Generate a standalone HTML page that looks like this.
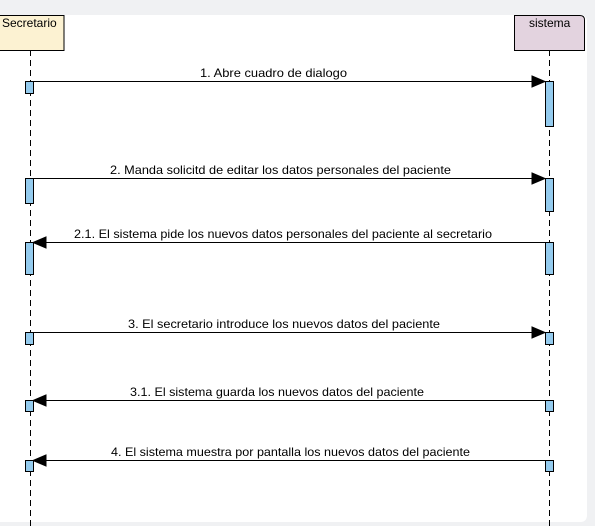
<!DOCTYPE html>
<html><head><style>body{margin:0;background:#f0f1f3}svg{display:block}</style></head><body>
<svg width="595" height="526" xmlns="http://www.w3.org/2000/svg" font-family="Liberation Sans, sans-serif" font-size="12">
<rect x="0" y="0" width="595" height="526" fill="#f0f1f3"/>
<path d="M0 15 H580 Q587 15 587 22 V515 Q587 522 580 522 H0 Z" fill="#fff"/>
<g stroke="#000" stroke-dasharray="6,4" stroke-width="1">
<line x1="30.5" y1="50" x2="30.5" y2="526"/>
<line x1="549.5" y1="50" x2="549.5" y2="526"/>
</g>
<rect x="-1" y="15.5" width="65" height="35" fill="#fcf2d2" stroke="#000"/>
<text x="2" y="27" font-size="12">Secretario</text>
<path d="M514.5 15.5 H580 Q584.5 15.5 584.5 20 V50.5 H514.5 Z" fill="#e3d3df" stroke="#000"/>
<text x="529" y="27" font-size="12">sistema</text>
<g stroke="#000" fill="#000">
<line x1="33" y1="81.5" x2="532" y2="81.5"/><path d="M532 76 L545 81.5 L532 87Z"/>
<line x1="33" y1="178.5" x2="532" y2="178.5"/><path d="M532 173 L545 178.5 L532 184Z"/>
<line x1="46" y1="242.5" x2="545" y2="242.5"/><path d="M46 237 L33 242.5 L46 248Z"/>
<line x1="33" y1="332.5" x2="532" y2="332.5"/><path d="M532 327 L545 332.5 L532 338Z"/>
<line x1="46" y1="400.5" x2="545" y2="400.5"/><path d="M46 395 L33 400.5 L46 406Z"/>
<line x1="46" y1="460.5" x2="545" y2="460.5"/><path d="M46 455 L33 460.5 L46 466Z"/>
</g>
<g fill="#94cbee" stroke="#000">
<rect x="25.5" y="81.5" width="8" height="12"/>
<rect x="545.5" y="81.5" width="8" height="45"/>
<rect x="25.5" y="178.5" width="8" height="25"/>
<rect x="545.5" y="178.5" width="8" height="33"/>
<rect x="25.5" y="242.5" width="8" height="32"/>
<rect x="545.5" y="242.5" width="8" height="32"/>
<rect x="25.5" y="332.5" width="8" height="12"/>
<rect x="545.5" y="332.5" width="8" height="12"/>
<rect x="25.5" y="400.5" width="8" height="11"/>
<rect x="545.5" y="400.5" width="8" height="11"/>
<rect x="25.5" y="460.5" width="8" height="11"/>
<rect x="545.5" y="460.5" width="8" height="11"/>
</g>
<g fill="#000">
<text x="200" y="77" textLength="147" lengthAdjust="spacingAndGlyphs">1. Abre cuadro de dialogo</text>
<text x="110" y="174" textLength="341" lengthAdjust="spacingAndGlyphs">2. Manda solicitd de editar los datos personales del paciente</text>
<text x="74" y="238" textLength="418" lengthAdjust="spacingAndGlyphs">2.1. El sistema pide los nuevos datos personales del paciente al secretario</text>
<text x="128" y="328" textLength="312" lengthAdjust="spacingAndGlyphs">3. El secretario introduce los nuevos datos del paciente</text>
<text x="130" y="396" textLength="294" lengthAdjust="spacingAndGlyphs">3.1. El sistema guarda los nuevos datos del paciente</text>
<text x="111" y="456" textLength="359" lengthAdjust="spacingAndGlyphs">4. El sistema muestra por pantalla los nuevos datos del paciente</text>
</g>
</svg>
</body></html>
